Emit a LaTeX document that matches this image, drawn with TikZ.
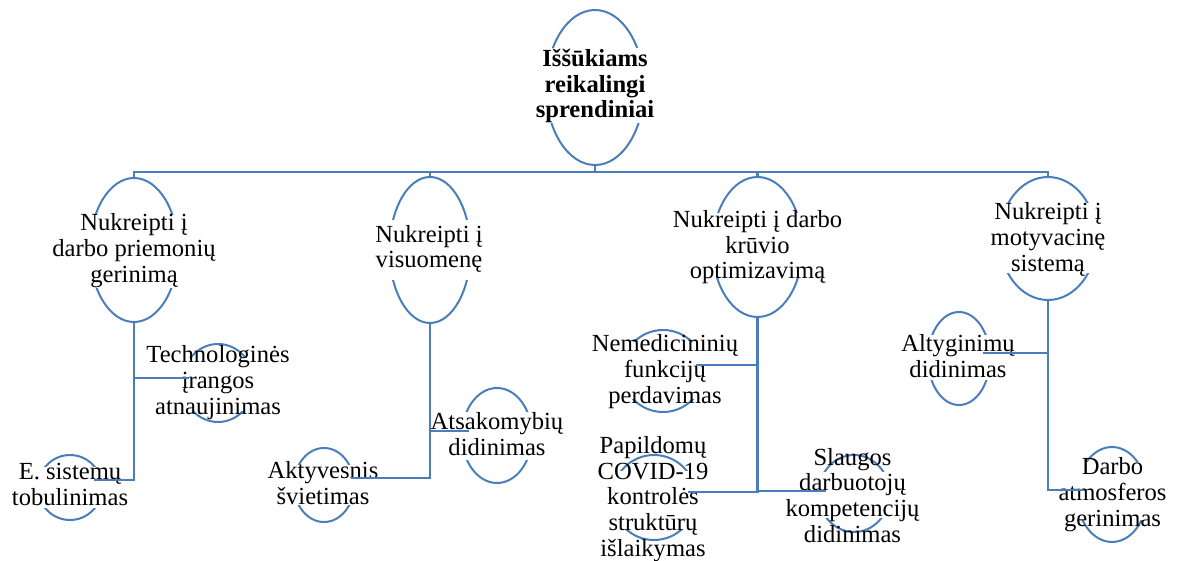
\documentclass[tikz,border=0pt]{standalone}
\usepackage{fontspec}
\setmainfont{Liberation Serif}
\usetikzlibrary{shapes.geometric}
\definecolor{ln}{HTML}{4A7EBB}
\begin{document}
\begin{tikzpicture}[x=1pt,y=-1pt,
  ov/.style={ellipse, draw=ln, line width=2pt, inner sep=0pt},
  cover/.style={rectangle, fill=white, draw=none, inner sep=0pt},
  lbl/.style={align=center, inner sep=0pt, font=\fontsize{24.6}{25.6}\selectfont, anchor=base},
  conn/.style={draw=ln, line width=2.4pt}]
\useasboundingbox (0,0) rectangle (1177,561);
% ellipses
\node[ov, minimum width=98, minimum height=155] (r) at (595,87.5) {};
\node[ov, minimum width=88, minimum height=144] (a) at (134,250) {};
\node[ov, minimum width=81, minimum height=146] (b) at (430,250) {};
\node[ov, minimum width=90, minimum height=140] (c) at (757.5,247) {};
\node[ov, minimum width=97, minimum height=123] (d) at (1048,238.5) {};
\node[ov, minimum width=72, minimum height=78] (a1) at (218,383) {};
\node[ov, minimum width=64, minimum height=65] (a2) at (70,487.5) {};
\node[ov, minimum width=70, minimum height=95] (b1) at (497,435.5) {};
\node[ov, minimum width=60, minimum height=74] (b2) at (324,485) {};
\node[ov, minimum width=82, minimum height=82] (c1) at (663,371) {};
\node[ov, minimum width=84, minimum height=85] (c2) at (654,497.5) {};
\node[ov, minimum width=71, minimum height=77] (c3) at (854,493.5) {};
\node[ov, minimum width=62, minimum height=93] (d1) at (959,358.5) {};
\node[ov, minimum width=70, minimum height=95] (d2) at (1112,494.5) {};
% covers (text frames hiding the middle of each ellipse)
\node[cover, minimum width=106, minimum height=75] (rm) at (595,85.5) {};
\node[cover, minimum width=96, minimum height=73] (am) at (134,251.5) {};
\node[cover, minimum width=89, minimum height=60] (bm) at (430,250) {};
\node[cover, minimum width=98, minimum height=64] (cm) at (757.5,245) {};
\node[cover, minimum width=105, minimum height=70] (dm) at (1048,238) {};
\node[cover, minimum width=80, minimum height=53] (a1m) at (218,384.5) {};
\node[cover, minimum width=72, minimum height=41] (a2m) at (70,487.5) {};
\node[cover, minimum width=78, minimum height=48] (b1m) at (497,436) {};
\node[cover, minimum width=68, minimum height=40] (b2m) at (324,485) {};
\node[cover, minimum width=90, minimum height=57] (c1m) at (663,370.5) {};
\node[cover, minimum width=92, minimum height=58] (c2m) at (654,500) {};
\node[cover, minimum width=79, minimum height=46] (c3m) at (854,495) {};
\node[cover, minimum width=70, minimum height=45] (d1m) at (959,357.5) {};
\node[cover, minimum width=78, minimum height=58] (d2m) at (1112,491) {};
% labels (anchor = baseline of the last line)
\node[lbl, font=\fontsize{24.6}{25.6}\selectfont\bfseries] (rt) at (595,118) {Iššūkiams\\reikalingi\\sprendiniai};
\node[lbl] (at) at (134,282) {Nukreipti į\\darbo priemonių\\gerinimą};
\node[lbl] (bt) at (429,268) {Nukreipti į\\visuomenę};
\node[lbl] (ct) at (757.5,279) {Nukreipti į darbo\\krūvio\\optimizavimą};
\node[lbl] (dt) at (1048,271) {Nukreipti į\\motyvacinę\\sistemą};
\node[lbl] (a1t) at (218,414) {Technologinės\\įrangos\\atnaujinimas};
\node[lbl] (a2t) at (70,505) {E. sistemų\\tobulinimas};
\node[lbl] (b1t) at (497,455) {Atsakomybių\\didinimas};
\node[lbl] (b2t) at (323,504) {Aktyvesnis\\švietimas};
\node[lbl] (c1t) at (665,403) {Nemedicininių\\funkcijų\\perdavimas};
\node[lbl] (c2t) at (653,556) {Papildomų\\COVID-19\\kontrolės\\struktūrų\\išlaikymas};
\node[lbl] (c3t) at (852.5,542) {Slaugos\\darbuotojų\\kompetencijų\\didinimas};
\node[lbl] (d1t) at (958,377) {Altyginimų\\didinimas};
\node[lbl] (d2t) at (1112.5,526) {Darbo\\atmosferos\\gerinimas};
% connectors
\coordinate (bus) at (595,172);
\draw[conn] (r.south) -- (bus) -| (a.north);
\draw[conn] (bus) -| (b.north);
\draw[conn] (bus) -| (c.north);
\draw[conn] (bus) -| (d.north);
\draw[conn] (a.south) |- ([shift={(8,-5)}]a1.west);
\draw[conn] (a.south) |- ([shift={(-9,-7.5)}]a2.east);
\draw[conn] (b.south) |- ([shift={(8,-4.5)}]b1.west);
\draw[conn] (b.south) |- ([shift={(-4,-7)}]b2.east);
\draw[conn] (c.south) |- ([shift={(-9,-6)}]c1.east);
\draw[conn] (c.south) |- ([shift={(-9,-5.5)}]c2.east);
\draw[conn] (c.south) |- ([shift={(8.5,-2.5)}]c3.west);
\draw[conn] (d.south) |- ([shift={(-8,-5.5)}]d1.east);
\draw[conn] (d.south) |- ([shift={(8,-4.5)}]d2.west);
\end{tikzpicture}
\end{document}
